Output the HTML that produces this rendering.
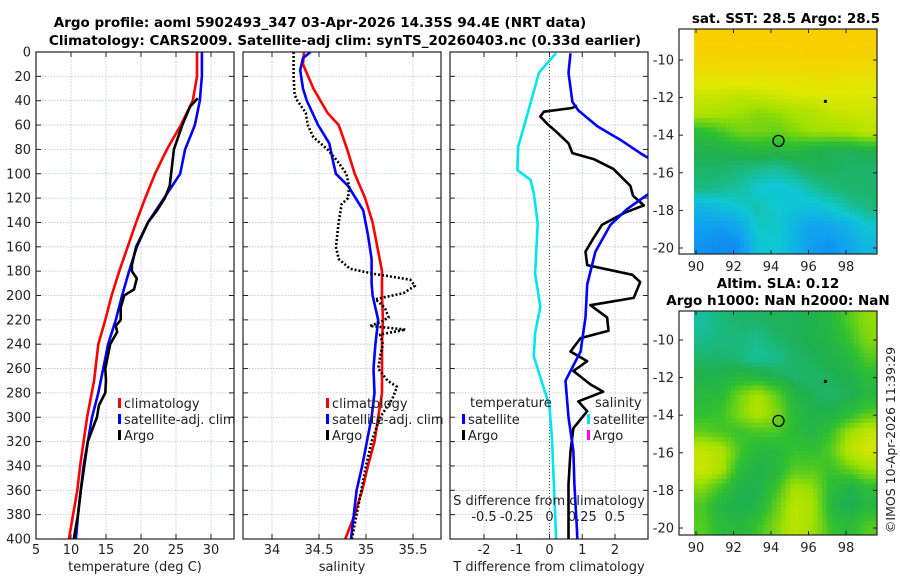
<!DOCTYPE html>
<html><head><meta charset="utf-8">
<style>
html,body{margin:0;padding:0;background:#fff;}
svg{display:block;font-family:"DejaVu Sans","Liberation Sans",sans-serif;}
</style></head>
<body>
<svg id="c" width="900" height="580" viewBox="0 0 900 580" xmlns="http://www.w3.org/2000/svg">
<text x="320" y="27" text-anchor="middle" font-size="13.5" font-weight="bold" fill="#000">Argo profile: aoml 5902493_347 03-Apr-2026 14.35S 94.4E (NRT data)</text>
<text x="345" y="45" text-anchor="middle" font-size="13.5" font-weight="bold" fill="#000">Climatology: CARS2009. Satellite-adj clim: synTS_20260403.nc (0.33d earlier)</text>
<text x="786" y="23" text-anchor="middle" font-size="13.5" font-weight="bold">sat. SST: 28.5 Argo: 28.5</text>
<text x="778" y="288" text-anchor="middle" font-size="13.5" font-weight="bold">Altim. SLA: 0.12</text>
<text x="778" y="305" text-anchor="middle" font-size="13.5" font-weight="bold">Argo h1000: NaN h2000: NaN</text>
<text transform="translate(895,440) rotate(-90)" text-anchor="middle" font-size="12.5" fill="#222">©IMOS 10-Apr-2026 11:39:29</text>
<g id="g"></g>
</svg>
<script>
// ---- data ----
const depthTicks=[0,20,40,60,80,100,120,140,160,180,200,220,240,260,280,300,320,340,360,380,400];
const tTicks=[5,10,15,20,25,30];
const sTicks=[34,34.5,35,35.5];
const dTTicks=[-2,-1,0,1,2];
const dSTickLabels=["-0.5","-0.25","0","0.25","0.5"];
const dSTicks=[-0.5,-0.25,0,0.25,0.5];

const climTdepth=[0,20,40,60,80,100,120,140,160,180,200,220,240,270,300,340,360,400];
const climT=[28.0,28.0,27.4,25.7,23.7,22.0,20.6,19.3,18.1,16.9,15.8,14.9,13.9,13.3,12.3,11.3,10.9,9.7];
const satTdepth=[0,20,40,60,80,100,120,140,160,180,200,220,240,260,280,300,340,360,380,400];
const satT=[28.7,28.7,28.4,27.7,26.3,25.6,23.3,21.0,19.4,18.3,17.3,16.4,15.3,14.6,13.9,13.0,11.8,11.4,11.0,10.7];
const argoTdepth=[38,45,60,70,80,100,110,120,130,140,160,175,180,186,195,200,210,220,225,230,240,260,270,280,290,300,320,340,360,380,400];
const argoT=[28.1,27.0,25.9,25.3,24.7,24.3,24.1,23.4,22.3,21.0,19.3,18.7,18.7,19.4,19.0,17.6,17.1,17.1,16.4,16.6,15.6,14.9,15.0,14.9,14.0,13.7,12.4,11.9,11.4,11.0,10.4];

const climSdepth=[0,10,30,50,60,80,100,120,140,160,180,200,220,240,280,300,320,340,360,380,400];
const climS=[34.34,34.33,34.44,34.59,34.71,34.80,34.88,34.99,35.07,35.12,35.17,35.17,35.18,35.17,35.17,35.13,35.09,35.02,34.96,34.88,34.78];
const satSdepth=[0,5,15,30,40,60,75,90,100,110,130,150,170,190,200,220,240,260,280,300,320,340,360,380,400];
const satS=[34.41,34.33,34.30,34.33,34.37,34.49,34.61,34.65,34.68,34.81,34.97,35.02,35.06,35.06,35.07,35.13,35.10,35.08,35.09,35.06,35.01,34.96,34.90,34.87,34.84];
const argoSdepth=[0,20,35,40,50,60,70,80,90,100,110,120,125,140,160,170,178,182,187,192,198,203,210,218,222,225,228,232,240,250,260,270,275,285,300,320,340,360,380,400];
const argoS=[34.23,34.23,34.24,34.27,34.36,34.38,34.44,34.59,34.70,34.79,34.82,34.81,34.74,34.71,34.68,34.71,34.83,35.07,35.47,35.52,35.40,35.10,35.20,35.24,35.15,35.04,35.42,35.15,35.18,35.15,35.13,35.23,35.33,35.28,35.15,35.06,35.00,34.95,34.90,34.85];

const satDTdepth=[1,17,41,48,61,72,83,90,100,110,117,129,142,164,191,218,246,270,300,328,355,393,400];
const satDT=[0.64,0.58,0.70,0.88,1.46,2.16,2.77,3.2,3.6,3.4,3.0,2.37,1.86,1.40,1.15,1.10,0.95,0.49,0.58,0.73,0.76,0.84,0.85];
const argoDTdepth=[44,46,49,53,59,66,75,83,88,96,110,118,126,132,142,153,164,175,183,189,202,208,218,229,235,246,254,262,273,279,287,295,309,328,355,393,400];
const argoDT=[0.84,0.69,-0.17,-0.28,-0.07,0.23,0.58,0.70,1.35,1.95,2.47,2.55,2.88,2.30,1.60,1.34,1.10,1.15,2.53,2.77,2.57,1.25,1.76,1.80,0.95,0.64,1.15,0.73,1.25,1.64,0.88,1.15,0.73,0.64,0.58,0.58,0.58];
const satDSdepth=[1,17,48,78,97,105,116,141,182,209,231,250,267,291,319,346,384,400];
const satDS=[0.05,-0.08,-0.16,-0.24,-0.245,-0.145,-0.12,-0.09,-0.11,-0.07,-0.11,-0.12,-0.07,0.0,0.02,0.03,0.045,0.05];

const mapLonTicks=[90,92,94,96,98];
const mapLatTicks=[-10,-12,-14,-16,-18,-20];
const sstGrid=[
[1.00,1.00,1.00,1.00,1.00,1.00,1.00,1.00,1.00,1.00],
[0.98,0.98,0.99,0.98,0.98,0.99,1.00,1.00,0.99,0.98],
[0.90,0.90,0.91,0.90,0.90,0.91,0.92,0.92,0.91,0.90],
[0.80,0.80,0.78,0.80,0.82,0.84,0.84,0.85,0.84,0.84],
[0.74,0.72,0.70,0.66,0.68,0.72,0.74,0.78,0.80,0.80],
[0.52,0.58,0.64,0.64,0.62,0.66,0.70,0.70,0.72,0.76],
[0.46,0.46,0.48,0.50,0.48,0.50,0.46,0.44,0.44,0.46],
[0.42,0.42,0.40,0.38,0.36,0.40,0.44,0.44,0.42,0.42],
[0.40,0.38,0.36,0.30,0.28,0.30,0.36,0.40,0.42,0.42],
[0.22,0.26,0.30,0.34,0.30,0.28,0.26,0.30,0.36,0.40],
[0.16,0.14,0.18,0.32,0.32,0.22,0.16,0.18,0.22,0.30],
[0.12,0.10,0.12,0.28,0.30,0.22,0.14,0.12,0.18,0.24]];
const slaGrid=[
[0.36,0.40,0.42,0.42,0.44,0.44,0.46,0.50,0.60,0.68],
[0.38,0.40,0.40,0.38,0.42,0.44,0.46,0.48,0.56,0.66],
[0.42,0.42,0.40,0.36,0.38,0.42,0.44,0.46,0.50,0.60],
[0.46,0.46,0.50,0.48,0.44,0.42,0.42,0.44,0.46,0.52],
[0.50,0.52,0.64,0.72,0.62,0.48,0.44,0.42,0.44,0.50],
[0.54,0.56,0.66,0.74,0.66,0.52,0.46,0.46,0.52,0.60],
[0.62,0.58,0.56,0.58,0.58,0.52,0.48,0.56,0.70,0.78],
[0.78,0.74,0.58,0.50,0.50,0.56,0.54,0.60,0.76,0.82],
[0.80,0.72,0.52,0.46,0.50,0.60,0.60,0.56,0.62,0.70],
[0.66,0.56,0.46,0.46,0.56,0.72,0.68,0.52,0.46,0.52],
[0.58,0.48,0.44,0.48,0.62,0.76,0.72,0.50,0.44,0.50],
[0.60,0.52,0.50,0.56,0.66,0.76,0.70,0.56,0.52,0.60]];
const argoLon=94.4, argoLat=-14.3;

// ---- helpers ----
const NS="http://www.w3.org/2000/svg";
const G=document.getElementById('g');
function mk(tag,attrs,parent){const e=document.createElementNS(NS,tag);for(const k in attrs)e.setAttribute(k,attrs[k]);(parent||G).appendChild(e);return e;}
function txt(x,y,s,attrs,parent){const e=mk('text',Object.assign({x:x,y:y,'font-size':13,fill:'#222'},attrs||{}),parent);e.textContent=s;return e;}
const yTop=52,yBot=539;
const yD=d=>yTop+(d/400)*(yBot-yTop);
function lin(d0,d1,r0,r1){return v=>r0+(v-d0)/(d1-d0)*(r1-r0);}

const panels=[
 {id:'temp',x0:36,x1:234,sx:lin(5,30,36,211),ticks:tTicks,labels:tTicks.map(String),title:'temperature (deg C)'},
 {id:'sal',x0:243,x1:441,sx:lin(34,35.5,272,413),ticks:sTicks,labels:sTicks.map(String),title:'salinity'},
 {id:'diff',x0:450,x1:648,sx:lin(-2,2,484,615),ticks:dTTicks,labels:dTTicks.map(String),title:'T difference from climatology'}
];
panels.forEach((p,pi)=>{
  const grp=mk('g',{});
  
  
  const cid='clip'+pi;
  const cp=mk('clipPath',{id:cid},grp);mk('rect',{x:p.x0,y:yTop,width:p.x1-p.x0,height:yBot-yTop},cp);
  depthTicks.forEach(d=>{
    const y=yD(d);
    if(d>0&&d<400){const gl=mk('line',{x1:p.x0,x2:p.x1,y1:y,y2:y,stroke:'#b8c0e0','stroke-width':0.8,'stroke-dasharray':'1.5 1.5'},grp);
      }
    mk('line',{x1:p.x0,x2:p.x0+5,y1:y,y2:y,stroke:'#222'},grp);
    mk('line',{x1:p.x1-5,x2:p.x1,y1:y,y2:y,stroke:'#222'},grp);
    if(pi===0){const t=txt(31,y+4.5,String(d),{'text-anchor':'end'},grp);
      }
  });
  p.ticks.forEach((v,i)=>{
    const x=p.sx(v);
    const gl=mk('line',{x1:x,x2:x,y1:yTop,y2:yBot,stroke:'#b8c0e0','stroke-width':0.8,'stroke-dasharray':'1.5 1.5'},grp);
    
    mk('line',{x1:x,x2:x,y1:yBot-5,y2:yBot,stroke:'#222'},grp);
    mk('line',{x1:x,x2:x,y1:yTop,y2:yTop+5,stroke:'#222'},grp);
    const t=txt(x,554,p.labels[i],{'text-anchor':'middle'},grp);
    
  });
  const at=txt((p.x0+p.x1)/2,571,p.title,{'text-anchor':'middle'},grp);
  
  p.grp=grp;p.clip='url(#'+cid+')';
});

function series(p,depths,vals,color,name,dash,sxOverride){
  const sx=sxOverride||p.sx;
  const pts=depths.map((d,i)=>sx(vals[i]).toFixed(1)+','+yD(d).toFixed(1)).join(' ');
  const e=mk('polyline',{points:pts,fill:'none',stroke:color,'stroke-width':2.6,'stroke-linejoin':'round','clip-path':p.clip},p.grp);
  if(dash)e.setAttribute('stroke-dasharray',dash);
  
  
}
const P=panels;
series(P[0],climTdepth,climT,'#ff0000','clim-temperature-line');
series(P[0],satTdepth,satT,'#0000ff','sat-temperature-line');
series(P[0],argoTdepth,argoT,'#000','argo-temperature-line');
series(P[1],climSdepth,climS,'#ff0000','clim-salinity-line');
series(P[1],satSdepth,satS,'#0000ff','sat-salinity-line');
series(P[1],argoSdepth,argoS,'#000','argo-salinity-line','2 2');
const zl=mk('line',{x1:P[2].sx(0),x2:P[2].sx(0),y1:yTop,y2:yBot,stroke:'#555','stroke-width':1,'stroke-dasharray':'1 2'},P[2].grp);

const sxS=lin(-0.5,0.5,P[2].sx(-2),P[2].sx(2));
series(P[2],satDSdepth,satDS,'#00e5ee','sat-salinity-diff-line',null,sxS);
series(P[2],argoDTdepth,argoDT,'#000','argo-temperature-diff-line');
series(P[2],satDTdepth,satDT,'#0000ff','sat-temperature-diff-line');

panels.forEach(p=>{const f=mk('rect',{x:p.x0,y:yTop,width:p.x1-p.x0,height:yBot-yTop,fill:'none',stroke:'#222','stroke-width':1.2},p.grp);
  });

const sdt=txt(549,505,'S difference from climatology',{'text-anchor':'middle'});

dSTicks.forEach((v,i)=>{const t=txt(sxS(v),521,dSTickLabels[i],{'text-anchor':'middle'});
  });

function legend(x,y,color,label,name){
  const g=mk('g',{});
  
  
  mk('rect',{x:x,y:y-10,width:3,height:10,fill:color},g);
  txt(x+6,y,label,{},g);
}
legend(118,408,'#ff0000','climatology','legend-entry-climatology');
legend(118,424,'#0000ff','satellite-adj. clim','legend-entry-satellite-adj');
legend(118,440,'#000','Argo','legend-entry-argo');
legend(326,408,'#ff0000','climatology','legend-entry-climatology-sal');
legend(326,424,'#0000ff','satellite-adj. clim','legend-entry-satellite-adj-sal');
legend(326,440,'#000','Argo','legend-entry-argo-sal');
const lt1=txt(470,407,'temperature');
const lt2=txt(595,407,'salinity');
legend(462,424,'#0000ff','satellite','legend-entry-temp-satellite');
legend(462,440,'#000','Argo','legend-entry-temp-argo');
legend(587,424,'#00e5ee','satellite','legend-entry-sal-satellite');
legend(587,440,'#ff00ff','Argo','legend-entry-sal-argo');

// ---- maps ----
const stops=[[0,[16,96,240]],[0.15,[16,160,240]],[0.3,[16,200,210]],[0.45,[32,176,80]],[0.55,[48,192,48]],[0.7,[160,224,0]],[0.85,[224,232,0]],[1,[248,208,0]]];
function cmap(v){v=Math.max(0,Math.min(1,v));for(let i=1;i<stops.length;i++){if(v<=stops[i][0]){const a=stops[i-1],b=stops[i];const t=(v-a[0])/(b[0]-a[0]);
  return 'rgb('+a[1].map((c,k)=>Math.round(c+(b[1][k]-c)*t)).join(',')+')';}}return 'rgb(248,208,0)';}
function sample(grid,fr,fc){
  const R=grid.length-1,C=grid[0].length-1;
  fr=Math.max(0,Math.min(R,fr));fc=Math.max(0,Math.min(C,fc));
  const r0=Math.floor(fr),c0=Math.floor(fc),r1=Math.min(R,r0+1),c1=Math.min(C,c0+1);
  const tr=fr-r0,tc=fc-c0;
  const a=grid[r0][c0]*(1-tc)+grid[r0][c1]*tc, b=grid[r1][c0]*(1-tc)+grid[r1][c1]*tc;
  return a*(1-tr)+b*tr;
}
function drawMap(name,grid,fy0,fy1,yAtM10,yAtM20){
  const g=mk('g',{});
  
  
  const fx0=679,fx1=877;
  const lonX=lin(90,98,696,846);
  const latY=lin(-10,-20,yAtM10,yAtM20);
  const ix0=694,ix1=877;
  const rows=grid.length,cols=grid[0].length,sub=4;
  const cw=(ix1-ix0)/(cols*sub),ch=(fy1-fy0)/(rows*sub);
  for(let r=0;r<rows*sub;r++)for(let c=0;c<cols*sub;c++){
    const v=sample(grid,(r+0.5)/sub-0.5,(c+0.5)/sub-0.5);
    const cell=mk('rect',{x:(ix0+c*cw).toFixed(2),y:(fy0+r*ch).toFixed(2),width:(cw+0.5).toFixed(2),height:(ch+0.5).toFixed(2),fill:cmap(v)},g);
    
    
  }
  mk('rect',{x:fx0,y:fy0,width:fx1-fx0,height:fy1-fy0,fill:'none',stroke:'#222','stroke-width':1.2},g);
  mapLonTicks.forEach(v=>{const x=lonX(v);mk('line',{x1:x,x2:x,y1:fy1-4,y2:fy1,stroke:'#222'},g);mk('line',{x1:x,x2:x,y1:fy0,y2:fy0+4,stroke:'#222'},g);
    const t=txt(x,fy1+17,String(v),{'text-anchor':'middle'},g);});
  mapLatTicks.forEach(v=>{const y=latY(v);mk('line',{x1:fx0,x2:fx0+4,y1:y,y2:y,stroke:'#222'},g);mk('line',{x1:fx1-4,x2:fx1,y1:y,y2:y,stroke:'#222'},g);
    const t=txt(674,y+4.5,String(v),{'text-anchor':'end'},g);});
  const m=mk('circle',{cx:lonX(argoLon),cy:latY(argoLat),r:5.5,fill:'none',stroke:'#000','stroke-width':1.3},g);
  
  mk('rect',{x:lonX(96.9)-1.5,y:latY(-12.2)-1.5,width:3,height:3,fill:'#000'},g);
}
drawMap('sst-map',sstGrid,29,254,60,248);
drawMap('sla-map',slaGrid,311,535,340,528);
</script>
</body></html>
